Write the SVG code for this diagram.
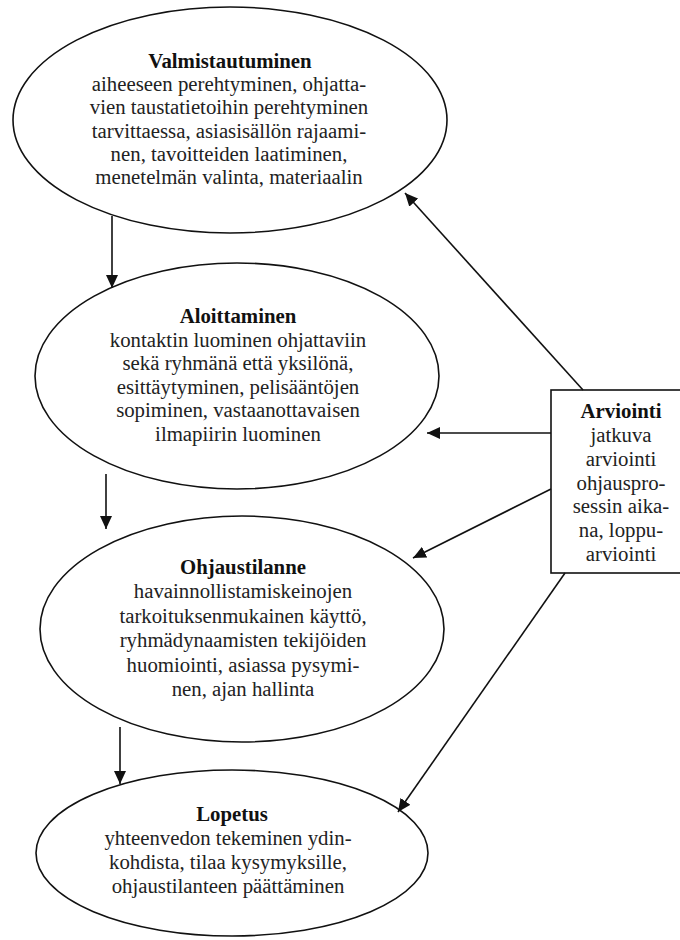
<svg xmlns="http://www.w3.org/2000/svg" width="680" height="940" viewBox="0 0 680 940">
<style>
.shape{fill:#fff;stroke:#111;stroke-width:1.6}
.t{font-family:"Liberation Serif","Times New Roman",serif;font-size:20.8px;fill:#222;text-anchor:middle}
.b{font-weight:bold;fill:#111}
.conn{stroke:#111;stroke-width:1.6;fill:none;marker-end:url(#arr)}
</style>
<defs>
<marker id="arr" markerUnits="userSpaceOnUse" markerWidth="14" markerHeight="12" refX="13" refY="6" orient="auto">
<path d="M0,0 L13,6 L0,12 Z" fill="#111"/>
</marker>
</defs>
<rect width="680" height="940" fill="#fff"/>
<g id="valmistautuminen">
<ellipse class="shape" cx="230" cy="120" rx="217" ry="113"/>
<text class="t b" x="230" y="68">Valmistautuminen</text>
<text class="t" x="229" y="91">aiheeseen perehtyminen, ohjatta-</text>
<text class="t" x="229" y="114">vien taustatietoihin perehtyminen</text>
<text class="t" x="229" y="138">tarvittaessa, asiasisällön rajaami-</text>
<text class="t" x="229" y="161">nen, tavoitteiden laatiminen,</text>
<text class="t" x="229" y="184">menetelmän valinta, materiaalin</text>
</g>
<g id="aloittaminen">
<ellipse class="shape" cx="237" cy="376" rx="202" ry="113"/>
<text class="t b" x="238" y="323">Aloittaminen</text>
<text class="t" x="238" y="346.6">kontaktin luominen ohjattaviin</text>
<text class="t" x="238" y="370.2">sekä ryhmänä että yksilönä,</text>
<text class="t" x="238" y="393.8">esittäytyminen, pelisääntöjen</text>
<text class="t" x="238" y="417.4">sopiminen, vastaanottavaisen</text>
<text class="t" x="238" y="441">ilmapiirin luominen</text>
</g>
<g id="ohjaustilanne">
<ellipse class="shape" cx="242" cy="629" rx="202" ry="113"/>
<text class="t b" x="243" y="574">Ohjaustilanne</text>
<text class="t" x="243" y="598.4">havainnollistamiskeinojen</text>
<text class="t" x="243" y="622.8">tarkoituksenmukainen käyttö,</text>
<text class="t" x="243" y="647.2">ryhmädynaamisten tekijöiden</text>
<text class="t" x="243" y="671.6">huomiointi, asiassa pysymi-</text>
<text class="t" x="243" y="696">nen, ajan hallinta</text>
</g>
<g id="lopetus">
<ellipse class="shape" cx="232" cy="853" rx="196" ry="83"/>
<text class="t b" x="232" y="821">Lopetus</text>
<text class="t" x="228" y="845">yhteenvedon tekeminen ydin-</text>
<text class="t" x="228" y="869">kohdista, tilaa kysymyksille,</text>
<text class="t" x="228" y="893">ohjaustilanteen päättäminen</text>
</g>
<g id="arviointi">
<rect class="shape" x="551" y="390" width="140" height="183"/>
<text class="t b" x="621" y="418">Arviointi</text>
<text class="t" x="621" y="442">jatkuva</text>
<text class="t" x="621" y="466">arviointi</text>
<text class="t" x="621" y="490">ohjauspro-</text>
<text class="t" x="621" y="513">sessin aika-</text>
<text class="t" x="621" y="537">na, loppu-</text>
<text class="t" x="621" y="561">arviointi</text>
</g>
<g id="connectors">
<line class="conn" x1="112" y1="216" x2="112" y2="288"/>
<line class="conn" x1="106" y1="474" x2="106" y2="529"/>
<line class="conn" x1="120" y1="727" x2="120" y2="784"/>
<line class="conn" x1="583" y1="390" x2="405" y2="193"/>
<line class="conn" x1="551" y1="433" x2="427" y2="433"/>
<line class="conn" x1="551" y1="489" x2="413" y2="558"/>
<line class="conn" x1="565" y1="573" x2="398" y2="812"/>
</g>
</svg>
